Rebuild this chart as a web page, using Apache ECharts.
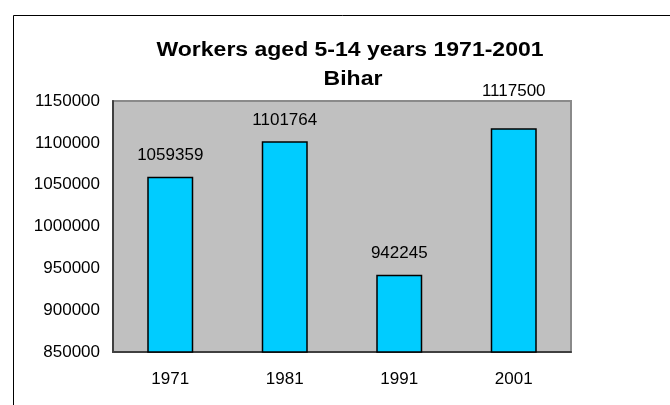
<!DOCTYPE html>
<html>
<head>
<meta charset="utf-8">
<script src="https://cdn.jsdelivr.net/npm/echarts@6/dist/echarts.min.js"></script>
<style>
html,body{margin:0;padding:0;background:#fff;}
#chart{width:670px;height:405px;}
</style>
</head>
<body>
<div id="chart"></div>
<script>
var titleLine1 = 'Workers aged 5-14 years 1971-2001';
var titleLine2 = 'Bihar';
var categories = ['1971', '1981', '1991', '2001'];
var workers = [1059359, 1101764, 942245, 1117500];
var yMin = 850000;
var yMax = 1150000;
var yStep = 50000;

// label lift above each bar (style only)
var labelLift = [13, 13, 13, 28];

var FONT = "'Liberation Sans', Arial, Helvetica, sans-serif";
var chart = echarts.init(document.getElementById('chart'), null, {renderer: 'canvas'});

var barData = workers.map(function (v, i) {
  return { value: v, label: { distance: labelLift[i] } };
});

chart.setOption({
  backgroundColor: '#ffffff',
  animation: false,
  graphic: [
    {
      type: 'rect', left: 11, top: 13, silent: true,
      shape: { x: 0, y: 0, width: 700, height: 420 },
      style: { fill: 'none', stroke: '#000', lineWidth: 1 }
    },
    {
      type: 'text', x: 350, y: 50, scaleX: 1.15, silent: true,
      style: { text: titleLine1, textAlign: 'center', textVerticalAlign: 'middle',
               font: 'bold 20px ' + FONT, fill: '#000' }
    },
    {
      type: 'text', x: 353, y: 79, scaleX: 1.15, silent: true,
      style: { text: titleLine2, textAlign: 'center', textVerticalAlign: 'middle',
               font: 'bold 20px ' + FONT, fill: '#000' }
    }
  ],
  grid: {
    left: 113, top: 101, right: 99, bottom: 53,
    show: true, backgroundColor: '#C0C0C0', borderColor: '#8a8a8a', borderWidth: 2
  },
  xAxis: {
    type: 'category',
    data: categories,
    axisLine: { show: true, lineStyle: { color: '#404040', width: 2 } },
    axisTick: { show: false },
    axisLabel: { color: '#000', fontSize: 17, fontFamily: FONT, margin: 19 },
    splitLine: { show: false }
  },
  yAxis: {
    type: 'value',
    min: yMin, max: yMax, interval: yStep,
    axisLine: { show: true, lineStyle: { color: '#404040', width: 2 } },
    axisTick: { show: false },
    axisLabel: { color: '#000', fontSize: 17, fontFamily: FONT, margin: 13,
                 formatter: function (v) { return String(v); } },
    splitLine: { show: false }
  },
  series: [{
    type: 'bar',
    data: barData,
    barWidth: 46,
    itemStyle: { color: '#00CCFF', borderColor: '#000', borderWidth: 1.5 },
    label: { show: true, position: 'top', color: '#000', fontSize: 17, fontFamily: FONT }
  }]
});
</script>
</body>
</html>
